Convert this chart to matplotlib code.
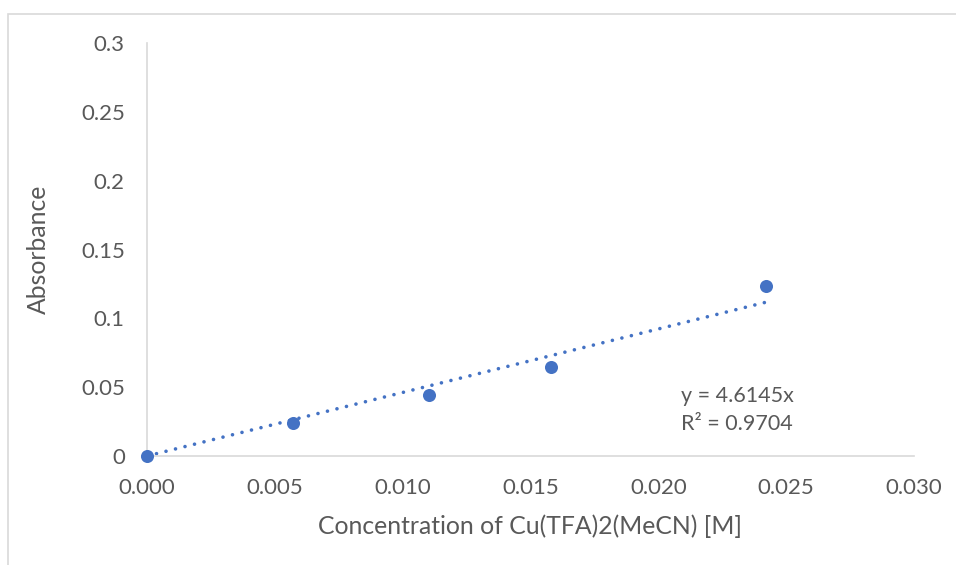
import numpy as np
import matplotlib
matplotlib.use("Agg")
import matplotlib.pyplot as plt
from matplotlib.patches import Rectangle

# Calibration data
concentration = [0.0, 0.00570, 0.01103, 0.01580, 0.02423]
absorbance = [0.0, 0.0237, 0.0445, 0.0649, 0.1235]
slope = 4.6145
r_squared = 0.9704

x_ticks = [0.000, 0.005, 0.010, 0.015, 0.020, 0.025, 0.030]
y_ticks = [0, 0.05, 0.1, 0.15, 0.2, 0.25, 0.3]
y_tick_labels = ["0", "0.05", "0.1", "0.15", "0.2", "0.25", "0.3"]

blue = "#4472C4"
text_grey = "#595959"
axis_grey = "#D9D9D9"

plt.rcParams["font.family"] = ["Lato", "DejaVu Sans"]

fig = plt.figure(figsize=(9.56, 5.65), dpi=100)
W, H = 956, 565
ax = fig.add_axes([147 / W, 1 - 456 / H, (914 - 147) / W, (456 - 43) / H])

# chart-area border
fig.patches.append(Rectangle((8 / W, -0.05), 1.2, 1 - 14 / H + 0.05,
                             transform=fig.transFigure, fill=False,
                             edgecolor="#D9D9D9", linewidth=1.2))

# trendline through origin
x_fit = np.array([0.0, max(concentration)])
ax.plot(x_fit, slope * x_fit, color=blue, linewidth=2.6,
        linestyle=(0, (0.01, 2.7)), dash_capstyle="round", zorder=2)

ax.plot(concentration, absorbance, "o", color=blue, markersize=9.4,
        markeredgewidth=0, zorder=3, clip_on=False)

ax.set_xlim(0, 0.030)
ax.set_ylim(0, 0.3)
ax.set_xticks(x_ticks)
ax.set_xticklabels([f"{v:.3f}" for v in x_ticks])
ax.set_yticks(y_ticks)
ax.set_yticklabels(y_tick_labels)
ax.tick_params(axis="both", length=0, labelsize=16, labelcolor=text_grey)
ax.tick_params(axis="x", pad=16)
ax.tick_params(axis="y", pad=16)

for s in ["top", "right"]:
    ax.spines[s].set_visible(False)
for s in ["left", "bottom"]:
    ax.spines[s].set_color(axis_grey)
    ax.spines[s].set_linewidth(1.2)

ax.set_xlabel("Concentration of Cu(TFA)2(MeCN) [M]", fontsize=17.8,
              color=text_grey, labelpad=12)
ax.set_ylabel("Absorbance", fontsize=17.8, color=text_grey, labelpad=22)

ax.text(0.0209, 0.0335, f"y = {slope}x\nR² = {r_squared}", fontsize=15.5,
        color=text_grey, ha="left", va="center", linespacing=1.5)

fig.savefig("out.png", dpi=100)
